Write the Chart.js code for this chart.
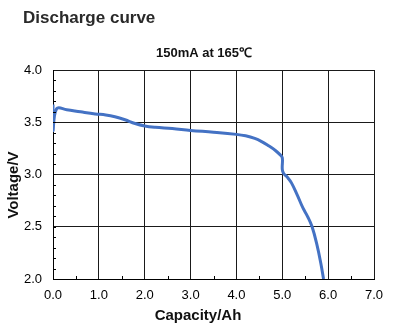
<!DOCTYPE html>
<html>
<head>
<meta charset="utf-8">
<script src="https://cdn.jsdelivr.net/npm/chart.js@4/dist/chart.umd.min.js"></script>
<style>
  html, body { margin: 0; padding: 0; background: #fff; }
  #wrap { width: 394px; height: 324px; }
</style>
</head>
<body>
<div id="wrap"><canvas id="chart" width="394" height="324"></canvas></div>
<script>
// Discharge data: capacity (Ah) vs. cell voltage (V)
const capacity = [0, 0, 0.08, 0.3, 0.6, 0.92, 1.15, 1.35, 1.57, 1.79, 2.0, 2.23, 2.6, 3.0, 3.5,
                  4.0, 4.2, 4.4, 4.55, 4.7, 4.85, 4.95, 5.0, 5.0, 5.03, 5.1, 5.2, 5.33, 5.45,
                  5.55, 5.65, 5.76, 5.84, 5.9];
const voltage  = [3.67, 3.42, 3.63, 3.62, 3.6, 3.58, 3.57, 3.553, 3.524, 3.488, 3.465, 3.452, 3.44, 3.422, 3.405,
                  3.384, 3.37, 3.345, 3.315, 3.275, 3.23, 3.19, 3.16, 3.05, 3.01, 2.98, 2.92, 2.8, 2.68,
                  2.6, 2.5, 2.32, 2.15, 2.0];

const xTicks = [0, 1, 2, 3, 4, 5, 6, 7];
const yTicks = [2.0, 2.5, 3.0, 3.5, 4.0];

const heading = 'Discharge curve';
const condition = '150mA at 165℃';
const xTitle = 'Capacity/Ah';
const yTitle = 'Voltage/V';

const FONT = "'Liberation Sans', Arial, sans-serif";

// Headings, axis titles and small inward minor ticks
const decorations = {
    id: 'decorations',
    afterDatasetsDraw(chart) {
        const { ctx, chartArea, scales } = chart;
        ctx.save();

        // minor ticks
        ctx.strokeStyle = '#000';
        ctx.lineWidth = 1;
        ctx.beginPath();
        for (let v = 2.1; v < 4.0; v += 0.1) {
            const y = Math.round(scales.y.getPixelForValue(v)) + 0.5;
            ctx.moveTo(chartArea.left, y);
            ctx.lineTo(chartArea.left + 3, y);
        }
        for (let v = 0.5; v < 7; v += 1) {
            const x = Math.round(scales.x.getPixelForValue(v)) + 0.5;
            ctx.moveTo(x, chartArea.bottom);
            ctx.lineTo(x, chartArea.bottom - 3);
        }
        ctx.stroke();

        // texts
        ctx.fillStyle = '#2a2a2a';
        ctx.textBaseline = 'alphabetic';
        ctx.textAlign = 'left';
        ctx.font = `bold 17px ${FONT}`;
        ctx.fillText(heading, 23, 23);

        ctx.fillStyle = '#111';
        ctx.textAlign = 'center';
        ctx.font = `bold 13px ${FONT}`;
        ctx.fillText(condition, 204, 57);

        ctx.font = `bold 15px ${FONT}`;
        ctx.fillText(xTitle, 198, 320);

        ctx.translate(18, 185);
        ctx.rotate(-Math.PI / 2);
        ctx.fillText(yTitle, 0, 0);
        ctx.restore();
    }
};

const ctx = document.getElementById('chart').getContext('2d');

new Chart(ctx, {
    type: 'scatter',
    data: {
        datasets: [{
            data: capacity.map((c, i) => ({ x: c, y: voltage[i] })),
            showLine: true,
            borderColor: '#4472c4',
            borderWidth: 3,
            pointRadius: 0,
            tension: 0.4,
            fill: false
        }]
    },
    options: {
        responsive: false,
        devicePixelRatio: 1,
        animation: false,
        layout: { padding: { left: 0, top: 70, right: 20, bottom: 0 } },
        plugins: {
            legend: { display: false },
            tooltip: { enabled: false }
        },
        scales: {
            x: {
                type: 'linear',
                min: xTicks[0],
                max: xTicks[xTicks.length - 1],
                afterBuildTicks: scale => { scale.ticks = xTicks.map(v => ({ value: v })); },
                afterFit: scale => { scale.height = 45; },
                ticks: {
                    callback: v => v.toFixed(1),
                    color: '#000',
                    font: { family: FONT, size: 13 },
                    padding: 9,
                    maxRotation: 0
                },
                grid: { color: '#1a1a1a', lineWidth: 1, drawTicks: false },
                border: { color: '#000', width: 1 }
            },
            y: {
                type: 'linear',
                min: yTicks[0],
                max: yTicks[yTicks.length - 1],
                afterBuildTicks: scale => { scale.ticks = yTicks.map(v => ({ value: v })); },
                afterFit: scale => { scale.width = 53; },
                ticks: {
                    callback: v => v.toFixed(1),
                    color: '#000',
                    font: { family: FONT, size: 13 },
                    padding: 11
                },
                grid: { color: '#1a1a1a', lineWidth: 1, drawTicks: false },
                border: { color: '#000', width: 1 }
            }
        }
    },
    plugins: [decorations]
});
</script>
</body>
</html>
